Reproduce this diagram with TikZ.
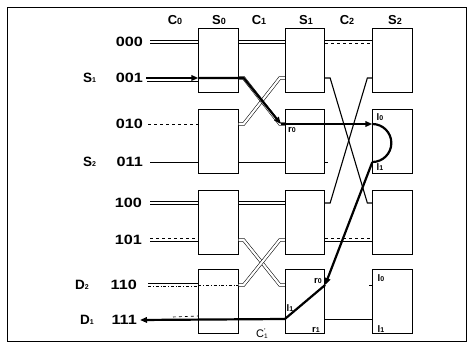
\documentclass[tikz,border=0pt]{standalone}
\usepackage{fontspec}
\setmainfont{Liberation Sans}
\newfontfamily\digitfont[FakeStretch=1.2]{Liberation Sans}
\usetikzlibrary{arrows.meta,calc}
\newcommand\mysub[1]{\raisebox{-0.5pt}{\fontsize{9}{9}\selectfont #1}}
\newcommand\tinysub[1]{\raisebox{-0.5pt}{\fontsize{7}{7}\selectfont #1}}
\begin{document}
\begin{tikzpicture}[x=1pt,y=-1pt,
  box/.style={draw,line width=0.8pt,minimum width=39.5pt,minimum height=64pt,inner sep=0pt},
  wire/.style={line width=0.6pt},
  midwire/.style={line width=1.1pt},
  dbl/.style={line width=0.55pt,double=white,double distance=2.2pt},
  heavy/.style={line width=2.2pt},
  tip/.style={-{Triangle[length=7pt,width=5.5pt]}},
  collab/.style={inner sep=0pt,font=\fontsize{13}{13}\selectfont\bfseries},
  inlab/.style={inner sep=0pt,font=\fontsize{13.5}{13.5}\selectfont\digitfont\bfseries},
  prelab/.style={inner sep=0pt,anchor=west,font=\fontsize{13.5}{13.5}\selectfont\bfseries},
  portlab/.style={inner sep=0pt,font=\fontsize{9.5}{9.5}\selectfont\bfseries}]
\useasboundingbox (0,0) rectangle (475,342);
\draw[line width=0.8pt] (7,7) rectangle (466,341);

% column labels
\node[collab] (lc0) at (175,20) {C\mysub{0}};
\node[collab] (ls0) at (219,20) {S\mysub{0}};
\node[collab] (lc1) at (259,20) {C\mysub{1}};
\node[collab] (ls1) at (306,20) {S\mysub{1}};
\node[collab] (lc2) at (347,20) {C\mysub{2}};
\node[collab] (ls2) at (395,20) {S\mysub{2}};

% port rows
\coordinate (y0) at (0,42);
\coordinate (y1) at (0,78);
\coordinate (y2) at (0,124);
\coordinate (y3) at (0,162);
\coordinate (y4) at (0,203);
\coordinate (y5) at (0,240);
\coordinate (y6) at (0,285);
\coordinate (y7) at (0,319);

% switch boxes
\foreach \r/\cy in {0/60.5,1/141.5,2/222,3/301}{
  \node[box] (a\r) at (218.5,\cy) {};
  \node[box] (b\r) at (305,\cy) {};
  \node[box] (c\r) at (392.5,\cy) {};
}

% input labels
\node[inlab,anchor=east] (i0) at (143,42) {000};
\node[inlab,anchor=east] (i1) at (143,78) {001};
\node[inlab,anchor=east] (i2) at (143,124) {010};
\node[inlab,anchor=east] (i3) at (143,162) {011};
\node[inlab,anchor=east] (i4) at (142,203) {100};
\node[inlab,anchor=east] (i5) at (142,240) {101};
\node[inlab,anchor=east] (i6) at (137,285) {110};
\node[inlab,anchor=east] (i7) at (137,320) {111};
\node[prelab] (pS1) at (83,78) {S\tinysub{1}};
\node[prelab] (pS2) at (83,162) {S\tinysub{2}};
\node[prelab] (pD2) at (75,285) {D\tinysub{2}};
\node[prelab] (pD1) at (80,320) {D\tinysub{1}};

% stage C0
\draw[dbl] ($(i0.east)+(7,0)$) -- (a0.west|-y0);
\draw[wire] ($(i1.east)+(4,3.5)$) -- ($(a0.west|-y1)+(0,3.5)$);
\draw[wire,dashed] ($(i2.east)+(5,0)$) -- (a1.west|-y2);
\draw[wire] ($(i3.east)+(7,0)$) -- (a1.west|-y3);
\draw[dbl,line width=0.8pt] ($(i4.east)+(8,0)$) -- (a2.west|-y4);
\draw[wire,dashed] ($(i5.east)+(8,-1.6)$) -- ($(a2.west|-y5)+(0,-1.6)$);
\draw[wire] ($(i5.east)+(8,1.6)$) -- ($(a2.west|-y5)+(0,1.6)$);
\draw[wire] ($(i6.east)+(11,-1.6)$) -- ($(a3.west|-y6)+(0,-1.6)$);
\draw[wire,dash dot] ($(i6.east)+(11,1.6)$) -- ($(a3.west|-y6)+(0,1.6)$);
\draw[wire,dash dot] (a3.west|-y6) -- (a3.east|-y6);
\draw[wire,dashed] ($(i7.east)+(36,-3)$) -- ($(a3.west|-y7)+(0,-3)$);

% stage C1
\draw[dbl] (a0.east|-y0) -- (b0.west|-y0);
\draw[dbl] (a1.east|-y2) -- ++(5,0) -- ($(b0.west|-y1)+(-5,0)$) -- (b0.west|-y1);
\draw[dbl] (a0.east|-y1) -- ++(5,0) -- ($(b1.west|-y2)+(-5,0)$) -- (b1.west|-y2);
\draw[wire] (a1.east|-y3) -- (b1.west|-y3);
\draw[dbl,line width=0.8pt] (a2.east|-y4) -- (b2.west|-y4);
\draw[dbl] (a2.east|-y5) -- ++(5,0) -- ($(b3.west|-y6)+(-5,0)$) -- (b3.west|-y6);
\draw[dbl] (a3.east|-y6) -- ++(5,0) -- ($(b2.west|-y5)+(-5,0)$) -- (b2.west|-y5);

% stage C2
\draw[wire] ($(b0.east|-y0)+(0,-1.6)$) -- ($(c0.west|-y0)+(0,-1.6)$);
\draw[wire,dashed] ($(b0.east|-y0)+(0,1.6)$) -- ($(c0.west|-y0)+(0,1.6)$);
\draw[midwire] (b0.east|-y1) -- ++(5,0) -- ($(c2.west|-y4)+(-5,0)$) -- (c2.west|-y4);
\draw[midwire] (b2.east|-y4) -- ++(5,0) -- ($(c0.west|-y1)+(-5,0)$) -- (c0.west|-y1);
\draw[wire] (b1.east|-y3) -- ++(3,0);
\draw[wire] (c3.west|-y6) -- ++(-3,0);
\draw[wire,dashed] ($(b2.east|-y5)+(0,-1.6)$) -- ($(c2.west|-y5)+(0,-1.6)$);
\draw[wire] ($(b2.east|-y5)+(0,1.6)$) -- ($(c2.west|-y5)+(0,1.6)$);
\draw[wire] (b3.east|-y7) -- (c3.west|-y7);

% highlighted route
\draw[heavy,tip] ($(i1.east)+(3,0)$) -- (a0.west|-y1);
\draw[heavy,tip] (a0.west|-y1) -- (a0.east|-y1) -- ++(5,0) -- ($(b1.west|-y2)+(-4,0)$);
\draw[heavy,tip] ($(b1.west|-y2)+(-4,0)$) -- (c1.west|-y2);
\draw[heavy] (c1.west|-y2) arc[start angle=-90,end angle=90,radius=19];
\draw[heavy,tip] (c1.west|-y3) -- (b3.east|-y6);
\draw[heavy,tip] (b3.east|-y6) -- (b3.west|-y7) -- ($(i7.east)+(3,0)$);

% port labels
\node[portlab] (r0a) at (292,130) {r\tinysub{0}};
\node[portlab] (l0a) at (380,117) {l\tinysub{0}};
\node[portlab] (l1a) at (380,167) {l\tinysub{1}};
\node[portlab] (l1b) at (290,308) {l\tinysub{1}};
\node[portlab] (r0b) at (318,281) {r\tinysub{0}};
\node[portlab] (r1b) at (316,330) {r\tinysub{1}};
\node[portlab] (l0c) at (381,278) {l\tinysub{0}};
\node[portlab] (l1c) at (381,329) {l\tinysub{1}};
\node[portlab,font=\fontsize{11}{11}\selectfont] (cp) at (262,334) {C\makebox[0pt][l]{\raisebox{4pt}{\fontsize{7}{7}\selectfont '}}\raisebox{-1pt}{\fontsize{6.5}{6.5}\selectfont 1}};
\end{tikzpicture}
\end{document}
